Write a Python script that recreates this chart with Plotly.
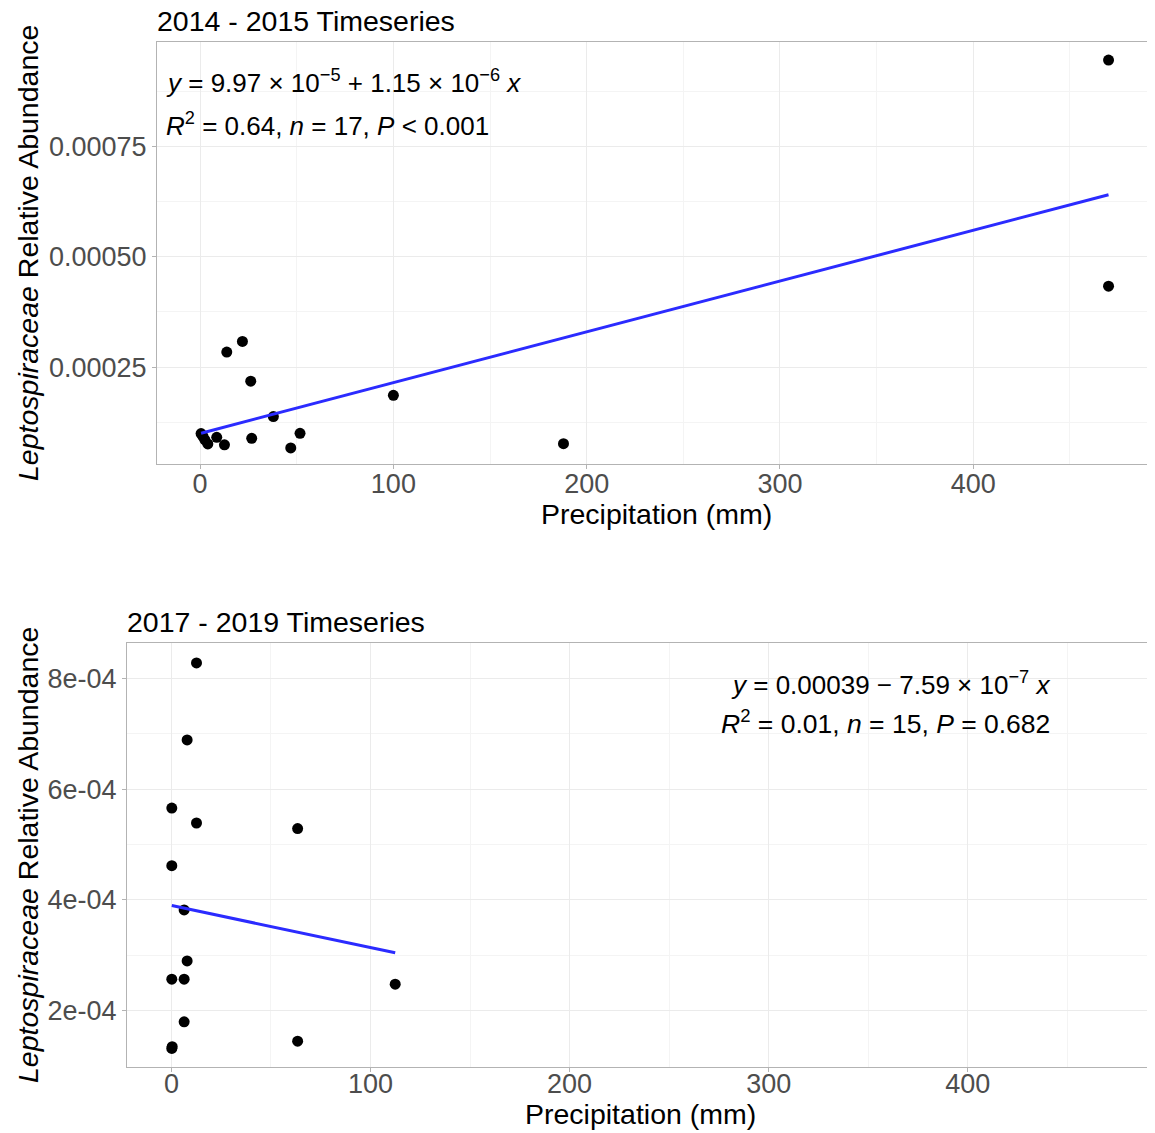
import plotly.graph_objects as go

# ---- Data: 2014-2015 timeseries ----
precip_1415 = [0.5, 1.5, 2.5, 4.0, 8.6, 12.6, 13.8, 21.9, 26.2, 26.7, 37.9, 46.9, 51.7, 100.0, 188.0, 470.0, 470.0]
abund_1415 = [0.0000995, 0.000093, 0.000085, 0.000076, 0.000091, 0.000074, 0.000284, 0.000308, 0.000218,
              0.0000886, 0.000138, 0.0000668, 0.0001, 0.000186, 0.0000766, 0.000945, 0.000433]
fit_1415 = {"intercept": 9.97e-5, "slope": 1.15e-6}

# ---- Data: 2017-2019 timeseries ----
precip_1719 = [12.6, 7.9, 0.2, 12.6, 63.4, 0.2, 6.4, 7.9, 0.2, 6.4, 6.4, 63.4, 0.2, 112.4, 0.4]
abund_1719 = [0.000828, 0.000689, 0.000566, 0.000539, 0.000529, 0.000462, 0.000382, 0.000290, 0.000257,
              0.000257, 0.000180, 0.000145, 0.000132, 0.000248, 0.000135]
fit_1719 = {"intercept": 0.00039, "slope": -7.59e-7}

x_ticks = [0, 100, 200, 300, 400]
y_ticks_top = [0.00025, 0.0005, 0.00075]
y_ticklabels_top = ["0.00025", "0.00050", "0.00075"]
y_ticks_bot = [2e-4, 4e-4, 6e-4, 8e-4]
y_ticklabels_bot = ["2e-04", "4e-04", "6e-04", "8e-04"]

OFF = 8  # page body margin of the browser
W, H = 1155 - OFF, 1133 - OFF
FONT = "Liberation Sans, Arial, sans-serif"
GRID = "#ebebeb"
MINOR = "#f4f4f4"
BORDER = "#b3b3b3"
TICKC = "#4d4d4d"


def px_x(p):
    return (p - OFF) / W


def px_y(p):
    return 1 - (p - OFF) / H


fig = go.Figure()


def add_panel(xs, ys, fit, xa, ya):
    fig.add_trace(go.Scatter(x=xs, y=ys, mode="markers", xaxis=xa, yaxis=ya,
                             marker=dict(color="black", size=11), showlegend=False,
                             hoverinfo="x+y"))
    x0, x1 = min(xs), max(xs)
    fig.add_trace(go.Scatter(x=[x0, x1],
                             y=[fit["intercept"] + fit["slope"] * x0, fit["intercept"] + fit["slope"] * x1],
                             mode="lines", xaxis=xa, yaxis=ya,
                             line=dict(color="#2b2bff", width=3), showlegend=False))


add_panel(precip_1415, abund_1415, fit_1415, "x", "y")
add_panel(precip_1719, abund_1719, fit_1719, "x2", "y2")

xaxis_common = dict(
    range=[-22.3, 493], tickvals=x_ticks, ticktext=[str(v) for v in x_ticks],
    showgrid=True, gridcolor=GRID, gridwidth=1, zeroline=False,
    showline=True, mirror=True, linecolor=BORDER, linewidth=1,
    ticks="outside", ticklen=4, tickcolor=BORDER,
    tickfont=dict(family=FONT, size=27, color=TICKC),
    minor=dict(dtick=50, tick0=0, showgrid=True, gridcolor=MINOR, ticks=""),
)
yaxis_common = dict(
    showgrid=True, gridcolor=GRID, gridwidth=1, zeroline=False,
    showline=True, mirror=True, linecolor=BORDER, linewidth=1,
    ticks="outside", ticklen=4, tickcolor=BORDER,
    tickfont=dict(family=FONT, size=27, color=TICKC),
)

fig.update_layout(
    width=W, height=H,
    margin=dict(l=0, r=0, t=0, b=0),
    paper_bgcolor="white", plot_bgcolor="white",
    font=dict(family=FONT, color="black"),
    xaxis=dict(domain=[px_x(157), px_x(1153)], anchor="y", ticklabelstandoff=-8, **xaxis_common),
    yaxis=dict(domain=[px_y(464), px_y(42)], anchor="x", range=[0.0000305, 0.000986],
               tickvals=y_ticks_top, ticktext=y_ticklabels_top,
               minor=dict(dtick=0.000125, tick0=0, showgrid=True, gridcolor=MINOR, ticks=""),
               **yaxis_common),
    xaxis2=dict(domain=[px_x(127), px_x(1153)], anchor="y2", ticklabelstandoff=-11, **xaxis_common),
    yaxis2=dict(domain=[px_y(1067), px_y(643)], anchor="x2", range=[0.0000984, 0.000864],
                tickvals=y_ticks_bot, ticktext=y_ticklabels_bot,
                minor=dict(dtick=0.0001, tick0=0, showgrid=True, gridcolor=MINOR, ticks=""),
                **yaxis_common),
)

ann = []


def text(x, y, s, size=28, xanchor="left", yanchor="middle", angle=0, color="black"):
    ann.append(dict(x=px_x(x), y=px_y(y), xref="paper", yref="paper", text=s, showarrow=False,
                    xanchor=xanchor, yanchor=yanchor, textangle=angle,
                    font=dict(family=FONT, size=size, color=color)))


# Panel titles
text(155, 21, "2014 - 2015 Timeseries", size=28.5)
text(125, 622, "2017 - 2019 Timeseries", size=28.5)

# Axis titles
text(656, 514, "Precipitation (mm)", size=28.5, xanchor="center")
text(640, 1114, "Precipitation (mm)", size=28.5, xanchor="center")
ytitle = "<i>Leptospiraceae</i> Relative Abundance"
text(28, 253, ytitle, size=28.5, xanchor="center", angle=-90)
text(28, 855, ytitle, size=28.5, xanchor="center", angle=-90)

# Equation labels
text(164, 81, "<i>y</i> = 9.97 × 10<sup>−5</sup> + 1.15 × 10<sup>−6</sup> <i>x</i>", size=26)
text(164, 124, "<i>R</i><sup>2</sup> = 0.64, <i>n</i> = 17, <i>P</i> < 0.001", size=26)
text(1052, 683, "<i>y</i> = 0.00039 − 7.59 × 10<sup>−7</sup> <i>x</i>", size=26, xanchor="right")
text(1052, 722, "<i>R</i><sup>2</sup> = 0.01, <i>n</i> = 15, <i>P</i> = 0.682", size=26.5, xanchor="right")

fig.update_layout(annotations=ann)

fig.write_html("out.html")
